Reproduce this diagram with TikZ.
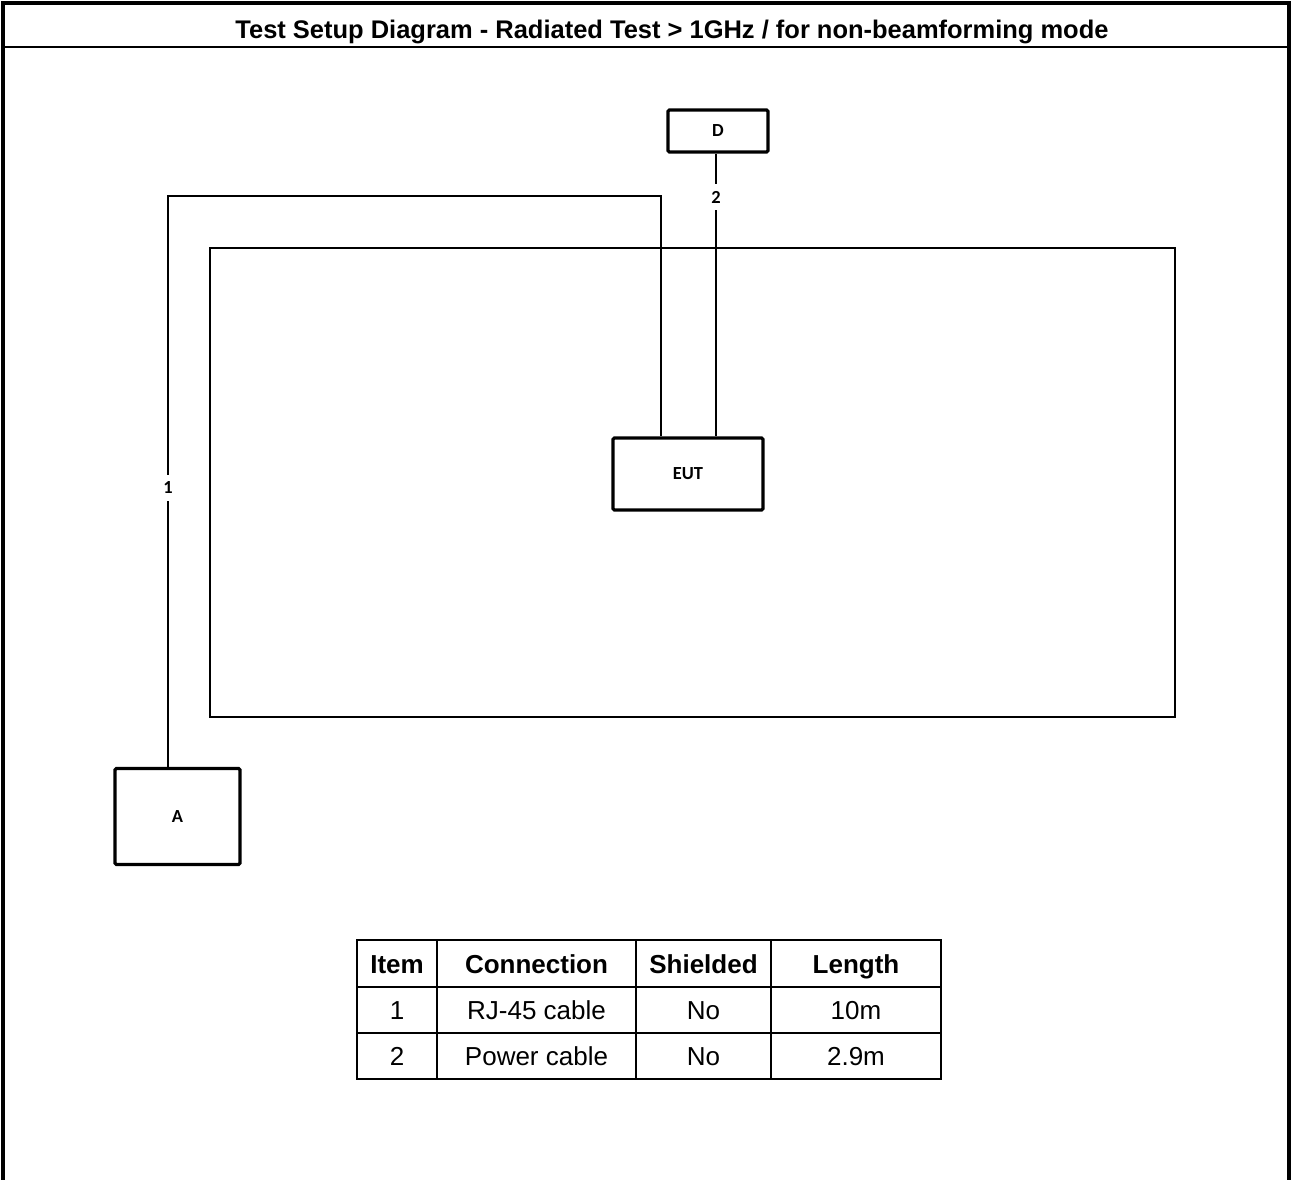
\documentclass[tikz,border=0pt]{standalone}
\usepackage{fontspec}
\setmainfont{Liberation Sans}
\newfontfamily\lblfont{Carlito}
\usetikzlibrary{positioning}

\tikzset{
	unitbox/.style={draw, line width=1.8pt, rounded corners=0.8pt, inner sep=0pt},
	tag/.style={font=\lblfont\bfseries\fontsize{10.5}{12}\selectfont, inner sep=1pt},
	cable/.style={line width=1.1pt},
	cell/.style={font=\fontsize{14.8}{16}\selectfont, inner sep=0pt, text height=0.72em, text depth=0pt},
	headcell/.style={cell, font=\bfseries\fontsize{14.8}{16}\selectfont},
}

\begin{document}
\begin{tikzpicture}[x=0.02cm, y=-0.02cm]
	\useasboundingbox (0,0) rectangle (1292,1180);
	% outer frame and title
	\draw[line width=2.3pt] (3,1180) -- (3,3) -- (1289,3) -- (1289,1180);
	\draw[line width=1.3pt] (3,47) -- (1289,47);
	\node[font=\bfseries\fontsize{14.5}{16}\selectfont, text height=0.72em, text depth=0pt] (title) at (672,32) {Test Setup Diagram - Radiated Test > 1GHz / for non-beamforming mode};
	% chamber
	\draw[line width=1.5pt] (210,248) rectangle (1175,717);
	% units
	\node[unitbox, minimum width=2cm, minimum height=0.84cm, tag] (D) at (718,131) {D};
	\node[unitbox, minimum width=3cm, minimum height=1.44cm, tag] (EUT) at (688,474) {EUT};
	\node[unitbox, minimum width=2.5cm, minimum height=1.92cm, tag] (A) at (177.5,816.5) {A};
	% cable labels
	\node[tag, inner sep=4pt] (lab2) at (716,197) {2};
	\node[tag, inner sep=4pt] (lab1) at (168,488) {1};
	\coordinate (bend1) at (661,196);
	\coordinate (bend2) at (168,196);
	% cables
	\draw[cable] (D.south -| lab2) -- (lab2.north);
	\draw[cable] (lab2.south) -- (EUT.north -| lab2);
	\draw[cable] (EUT.north -| bend1) -- (bend1) -- (bend2) -- (lab1.north);
	\draw[cable] (lab1.south) -- (A.north -| lab1);
	% table
	\begin{scope}[line width=1.2pt]
		\draw (357,940) rectangle (941,1079);
		\draw (357,987) -- (941,987);
		\draw (357,1033) -- (941,1033);
		\draw (437,940) -- (437,1079);
		\draw (636,940) -- (636,1079);
		\draw (771,940) -- (771,1079);
	\end{scope}
	\node[headcell] (h1) at (397,967) {Item};
	\node[headcell] (h2) at (536.5,967) {Connection};
	\node[headcell] (h3) at (703.5,967) {Shielded};
	\node[headcell] (h4) at (856,967) {Length};
	\node[cell] (r11) at (397,1013) {1};
	\node[cell] (r12) at (536.5,1013) {RJ-45 cable};
	\node[cell] (r13) at (703.5,1013) {No};
	\node[cell] (r14) at (856,1013) {10m};
	\node[cell] (r21) at (397,1059) {2};
	\node[cell] (r22) at (536.5,1059) {Power cable};
	\node[cell] (r23) at (703.5,1059) {No};
	\node[cell] (r24) at (856,1059) {2.9m};
\end{tikzpicture}
\end{document}
